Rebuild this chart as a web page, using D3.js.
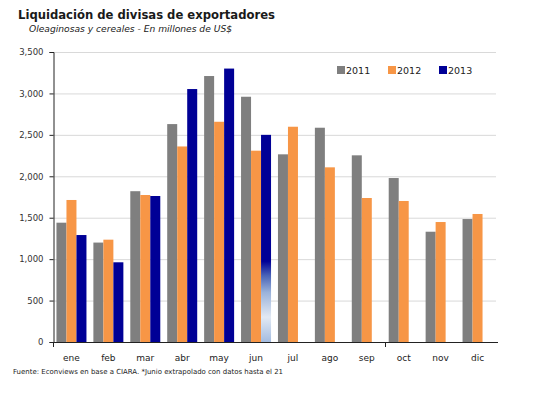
<!DOCTYPE html>
<html><head><meta charset="utf-8">
<script src="https://cdn.jsdelivr.net/npm/d3@7"></script>
<style>body{margin:0;background:#fff}svg{display:block}</style>
</head><body>
<svg id="c" width="533" height="399"></svg>
<script>
const months = ["ene","feb","mar","abr","may","jun","jul","ago","sep","oct","nov","dic"];
const seriesNames = ["2011","2012","2013"];
const v2011 = [1440,1200,1820,2630,3210,2960,2265,2586,2253,1979,1331,1484];
const v2012 = [1714,1235,1774,2360,2658,2309,2598,2108,1738,1702,1448,1545];
const v2013 = [1291,962,1762,3053,3300,2500,null,null,null,null,null,null];
const yTicks = [0,500,1000,1500,2000,2500,3000,3500];
const colors = ["#7f7f7f","#f79646","#000096"];

const svg = d3.select("#c");
const L = 53, R = 496, T = 52, B = 342;
const x0 = d3.scaleBand().domain(months).range([L,R]).paddingInner(0.1875).paddingOuter(0.09375);
const x1 = d3.scaleBand().domain(seriesNames).range([0,x0.bandwidth()]).padding(0);
const y = d3.scaleLinear().domain([0,3500]).range([B,T]);

// gradient for extrapolated june 2013
const defs = svg.append("defs");
const g = defs.append("linearGradient").attr("id","junGrad").attr("x1",0).attr("y1",0).attr("x2",0).attr("y2",1);
[[0,"#000096"],[0.61,"#000096"],[0.68,"#4a64b8"],[0.76,"#9ab2da"],[0.88,"#e2e9f3"],[1,"#a4bce0"]]
 .forEach(s=>g.append("stop").attr("offset",s[0]).attr("stop-color",s[1]));

// gridlines
svg.append("g").selectAll("line").data(yTicks.filter(d=>d>0)).join("line")
  .attr("x1",L).attr("x2",R).attr("y1",d=>y(d)+0.5).attr("y2",d=>y(d)+0.5)
  .attr("stroke","#d9d9d9").attr("stroke-width",1);

// bars
const data = months.map((m,i)=>({m, vals:[v2011[i],v2012[i],v2013[i]]}));
const grp = svg.append("g").selectAll("g").data(data).join("g")
  .attr("transform",d=>`translate(${x0(d.m)},0)`);
grp.selectAll("rect").data(d=>d.vals.map((v,k)=>({m:d.m,k,v})).filter(e=>e.v!=null)).join("rect")
  .attr("x",e=>x1(seriesNames[e.k]))
  .attr("width",x1.bandwidth())
  .attr("y",e=>y(e.v))
  .attr("height",e=>y(0)-y(e.v))
  .attr("fill",e=>(e.m==="jun"&&e.k===2)?"url(#junGrad)":colors[e.k]);

// y axis
const ya = svg.append("g").attr("transform",`translate(${L+0.5},0)`)
  .call(d3.axisLeft(y).tickValues(yTicks).tickFormat(d3.format(",")).tickSizeOuter(0).tickSize(4).tickPadding(6));
ya.select(".domain").attr("stroke","#222");
ya.selectAll(".tick line").attr("stroke","#222");
ya.selectAll("text").attr("font-family","DejaVu Sans, sans-serif").attr("font-size","8.5px").attr("fill","#333");

// x axis
svg.append("line").attr("x1",L).attr("x2",R+2).attr("y1",B+0.5).attr("y2",B+0.5).attr("stroke","#222");
svg.append("line").attr("x1",L+0.5).attr("x2",L+0.5).attr("y1",B).attr("y2",B+5).attr("stroke","#222");
const tx = x0("oct") - x0.step()*x0.paddingInner()/2;
svg.append("line").attr("x1",Math.round(tx)+0.5).attr("x2",Math.round(tx)+0.5).attr("y1",B).attr("y2",B+5).attr("stroke","#222");
svg.append("g").selectAll("text").data(months).join("text")
  .attr("x",d=>x0(d)+x0.bandwidth()/2).attr("y",361)
  .attr("text-anchor","middle").attr("font-family","DejaVu Sans, sans-serif").attr("font-size","9px").attr("fill","#222")
  .text(d=>d);

// legend
const lg = svg.append("g");
const lx = [337,388,439];
seriesNames.forEach((s,k)=>{
  lg.append("rect").attr("x",lx[k]).attr("y",66).attr("width",8).attr("height",8).attr("fill",colors[k]);
  lg.append("text").attr("x",lx[k]+9).attr("y",74).attr("font-family","DejaVu Sans, sans-serif").attr("font-size","9.5px").attr("fill","#222").text(s);
});

// titles
svg.append("text").attr("x",18).attr("y",19).attr("font-family","DejaVu Sans, sans-serif").attr("font-weight","bold")
  .attr("font-size","12px").attr("fill","#1a1a1a").attr("textLength",257).attr("lengthAdjust","spacingAndGlyphs")
  .text("Liquidación de divisas de exportadores");
svg.append("text").attr("x",29).attr("y",32).attr("font-family","DejaVu Sans, sans-serif").attr("font-style","italic")
  .attr("font-size","9px").attr("fill","#1a1a1a").attr("textLength",203).attr("lengthAdjust","spacingAndGlyphs")
  .text("Oleaginosas y cereales - En millones de US$");
svg.append("text").attr("x",13).attr("y",374).attr("font-family","DejaVu Sans, sans-serif")
  .attr("font-size","7px").attr("fill","#222").attr("textLength",270).attr("lengthAdjust","spacingAndGlyphs")
  .text("Fuente: Econviews en base a CIARA. *Junio extrapolado con datos hasta el 21");
</script>
</body></html>
